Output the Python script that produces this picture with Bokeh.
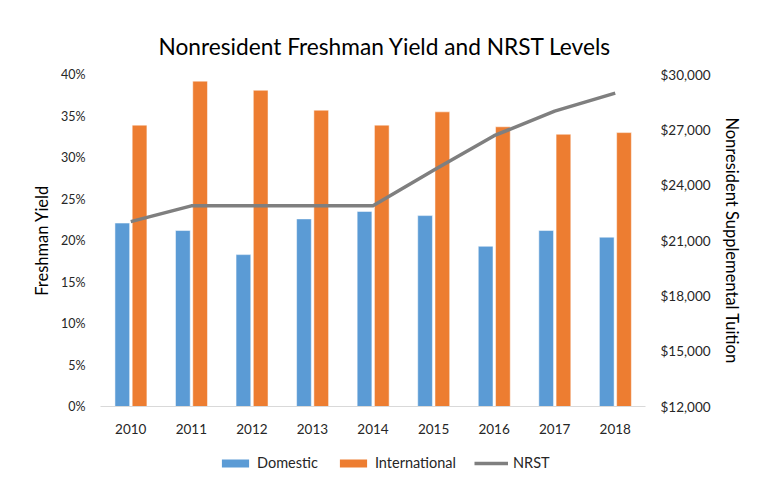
from bokeh.plotting import figure
from bokeh.layouts import column
from bokeh.models import (Range1d, LinearAxis, FactorRange, Legend, LegendItem,
                          NumeralTickFormatter, FixedTicker, ColumnDataSource)
from bokeh.transform import dodge
from bokeh.embed import file_html
from bokeh.resources import INLINE

years = ["2010", "2011", "2012", "2013", "2014", "2015", "2016", "2017", "2018"]
domestic = [0.221, 0.212, 0.183, 0.226, 0.235, 0.230, 0.193, 0.212, 0.204]
international = [0.339, 0.392, 0.381, 0.357, 0.339, 0.355, 0.337, 0.328, 0.330]
nrst = [22021, 22878, 22878, 22878, 22878, 24804, 26682, 28014, 28992]

left_ticks = [0, 0.05, 0.10, 0.15, 0.20, 0.25, 0.30, 0.35, 0.40]
right_ticks = [12000, 15000, 18000, 21000, 24000, 27000, 30000]
series_names = ["Domestic", "International", "NRST"]

FONT = "Lato"
TXT = "#262626"
BLUE, ORANGE, GRAY = "#5b9bd5", "#ed7d31", "#7f7f7f"

src = ColumnDataSource(dict(year=years, domestic=domestic,
                            international=international, nrst=nrst))

p = figure(frame_width=545, frame_height=332, output_backend="svg", toolbar_location=None,
           x_range=FactorRange(factors=years, range_padding=0),
           y_range=Range1d(0, 0.40),
           min_border_left=100, min_border_right=109,
           min_border_top=74, min_border_bottom=34,
           title="Nonresident Freshman Yield and NRST Levels")
p.outline_line_color = None
p.grid.visible = False

p.title.align = "left"
p.title.offset = 58
p.title.text_font = FONT
p.title.text_font_size = "22.7px"
p.title.text_font_style = "normal"
p.title.text_color = "#000000"
p.title.standoff = 30

p.extra_y_ranges = {"nrst": Range1d(12000, 30000)}

p.vbar(x=dodge("year", -0.14, range=p.x_range), top="domestic", width=0.243,
       source=src, fill_color=BLUE, line_color="#ffffff", line_width=0.5)
p.vbar(x=dodge("year", 0.145, range=p.x_range), top="international", width=0.243,
       source=src, fill_color=ORANGE, line_color="#ffffff", line_width=0.5)
p.line(x="year", y="nrst", source=src, y_range_name="nrst",
       line_color=GRAY, line_width=3.5, line_join="round")

# x axis
xa = p.xaxis[0]
xa.axis_line_color = "#d9d9d9"
xa.axis_line_width = 1
xa.major_tick_line_color = None
xa.minor_tick_line_color = None
xa.major_label_text_font = FONT
xa.major_label_text_font_size = "13.5px"
xa.major_label_text_color = TXT
xa.major_label_standoff = 11

# left y axis
ya = p.yaxis[0]
ya.ticker = FixedTicker(ticks=left_ticks)
ya.formatter = NumeralTickFormatter(format="0%")
ya.axis_line_color = None
ya.major_tick_line_color = None
ya.minor_tick_line_color = None
ya.major_tick_out = 0
ya.major_label_standoff = 15
ya.major_label_text_font = FONT
ya.major_label_text_font_size = "12.5px"
ya.major_label_text_color = TXT
ya.axis_label = "Freshman Yield"
ya.axis_label_text_font = FONT
ya.axis_label_text_font_size = "16.5px"
ya.axis_label_text_font_style = "normal"
ya.axis_label_text_color = "#000000"
ya.axis_label_standoff = 6

# right y axis
ra = LinearAxis(y_range_name="nrst", ticker=FixedTicker(ticks=right_ticks),
                formatter=NumeralTickFormatter(format="$0,0"))
ra.axis_line_color = None
ra.major_tick_line_color = None
ra.minor_tick_line_color = None
ra.major_tick_out = 0
ra.major_label_standoff = 15
ra.major_label_text_font = FONT
ra.major_label_text_font_size = "13.5px"
ra.major_label_text_color = TXT
ra.axis_label = "Nonresident Supplemental Tuition"
ra.axis_label_text_font = FONT
ra.axis_label_text_font_size = "16.5px"
ra.axis_label_text_font_style = "normal"
ra.axis_label_text_color = "#000000"
ra.axis_label_standoff = 8
p.add_layout(ra, "right")

# legend strip below the chart (its own small figure; the series are drawn
# there out of view so that only the legend shows)
lf = figure(frame_width=545, height=43, output_backend="svg", toolbar_location=None,
            x_range=FactorRange(factors=years, range_padding=0),
            y_range=Range1d(1e6, 2e6),
            x_axis_location=None, y_axis_location=None,
            min_border_left=100, min_border_right=109,
            min_border_top=0, min_border_bottom=0)
lf.outline_line_color = None
lf.grid.visible = False
r1 = lf.vbar(x="year", top="domestic", width=0.243, source=src,
             fill_color=BLUE, line_color=None)
r2 = lf.vbar(x="year", top="international", width=0.243, source=src,
             fill_color=ORANGE, line_color=None)
r3 = lf.line(x="year", y="international", source=src, line_color=GRAY, line_width=3.5)

legend = Legend(items=[LegendItem(label=series_names[0], renderers=[r1]),
                       LegendItem(label=series_names[1], renderers=[r2]),
                       LegendItem(label=series_names[2], renderers=[r3])],
                orientation="horizontal", location=(118, 12),
                glyph_width=34, glyph_height=10, spacing=18, label_standoff=5,
                label_text_font=FONT, label_text_font_size="14.5px",
                label_text_color=TXT, border_line_color=None,
                background_fill_alpha=0, margin=0, padding=0)
lf.add_layout(legend, "center")

layout = column(p, lf, spacing=0)
open("out.html", "w").write(file_html(layout, INLINE))
